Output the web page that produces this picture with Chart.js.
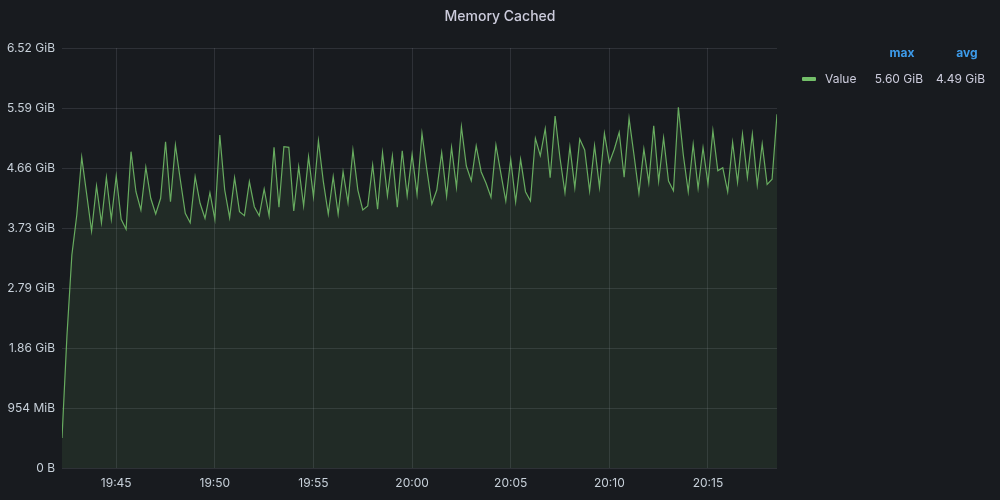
<!DOCTYPE html>
<html>
<head>
<meta charset="utf-8">
<script src="https://cdn.jsdelivr.net/npm/chart.js@4/dist/chart.umd.min.js"></script>
<style>
  html, body { margin: 0; padding: 0; background: #181b1f; }
  #wrap { position: relative; width: 1000px; height: 500px; background: #181b1f; font-family: Inter, Roboto, "Noto Sans", sans-serif; }
  #title { position: absolute; left: 0; top: 7px; width: 1000px; text-align: center; color: #ccccdc; font-size: 14px; font-weight: 500; }
  #legend { position: absolute; left: 790px; top: 45px; width: 210px; color: #ccccdc; font-size: 12px; }
  .hdr { position: absolute; top: 0; color: #3d9be9; font-weight: 700; text-align: center; }
  .row { position: absolute; top: 26px; }
  .sw { position: absolute; left: 12px; top: 32px; width: 14px; height: 4px; border-radius: 1px; background: #73bf69; }
  canvas { position: absolute; left: 0; top: 0; }
</style>
</head>
<body>
<div id="wrap">
  <canvas id="c" width="1000" height="500"></canvas>
  <div id="title"></div>
  <div id="legend"></div>
</div>
<script>
const chartTitle = "Memory Cached";
const seriesName = "Value";
const statNames = ["max", "avg"];
const statValues = ["5.60 GiB", "4.49 GiB"];
// sample timestamps: start minute of day (19:42:15) and 15 s step
const startMinute = 19 * 60 + 42.25;
const stepMinutes = 0.25;
// cached memory, in units of 1e9 bytes
const cachedGB = [
  0.50, 2.20, 3.55, 4.217, 5.178, 4.567, 3.95, 4.70, 4.088, 4.845,
  4.145, 4.867, 4.145, 3.978, 5.272, 4.605, 4.30, 5.012, 4.495, 4.233,
  4.495, 5.438, 4.438, 5.383, 4.80, 4.245, 4.088, 4.855, 4.412, 4.162,
  4.588, 4.145, 5.55, 4.633, 4.172, 4.838, 4.272, 4.205, 4.772, 4.355,
  4.205, 4.65, 4.205, 5.345, 4.345, 5.355, 5.345, 4.283, 5.022, 4.367,
  5.188, 4.522, 5.455, 4.772, 4.233, 4.855, 4.233, 4.938, 4.422, 5.30,
  4.633, 4.30, 4.367, 5.05, 4.312, 5.255, 4.538, 5.20, 4.345, 5.288,
  4.538, 5.228, 4.562, 5.578, 4.967, 4.40, 4.633, 5.255, 4.533, 5.345,
  4.678, 5.688, 5.033, 4.788, 5.367, 4.938, 4.745, 4.512, 5.383, 4.912,
  4.45, 5.145, 4.438, 5.145, 4.605, 4.45, 5.495, 5.205, 5.655, 4.838,
  5.867, 5.162, 4.588, 5.355, 4.672, 5.483, 5.30, 4.617, 5.372, 4.678,
  5.578, 5.088, 5.312, 5.595, 4.845, 5.828, 5.217, 4.578, 5.317, 4.755,
  5.705, 4.778, 5.505, 4.783, 4.622, 6.013, 5.217, 4.605, 5.395, 4.662,
  5.338, 4.733, 5.622, 4.955, 5.005, 4.605, 5.428, 4.762, 5.567, 4.845,
  5.562, 4.717, 5.40, 4.728, 4.812, 5.895
];
const yMax = 7, yStep = 1;      // 1e9-byte units
const xTickStepMinutes = 5;

document.getElementById('title').textContent = chartTitle;
const lg = document.getElementById('legend');
lg.innerHTML =
  '<div class="hdr" style="left:92px;width:40px">' + statNames[0] + '</div>' +
  '<div class="hdr" style="left:157px;width:40px">' + statNames[1] + '</div>' +
  '<div class="sw"></div>' +
  '<div class="row" style="left:35px">' + seriesName + '</div>' +
  '<div class="row" style="left:70px;width:63px;text-align:right">' + statValues[0] + '</div>' +
  '<div class="row" style="left:140px;width:55px;text-align:right">' + statValues[1] + '</div>';

const points = cachedGB.map((v, i) => ({ x: startMinute + i * stepMinutes, y: v }));
const xMin = startMinute, xMax = startMinute + (cachedGB.length - 1) * stepMinutes;

function fmtBytes(v) {
  const b = v * 1e9;
  if (b === 0) return '0 B';
  if (b < 1073741824) return Math.round(b / 1048576) + ' MiB';
  return (b / 1073741824).toFixed(2) + ' GiB';
}
function fmtTime(m) {
  const h = Math.floor(m / 60), mm = Math.round(m % 60);
  return String(h).padStart(2, '0') + ':' + String(mm).padStart(2, '0');
}

const gridColor = 'rgba(204,204,220,0.13)';
const tickColor = '#c7d0d9';
Chart.defaults.font.family = 'Inter, Roboto, "Noto Sans", sans-serif';
Chart.defaults.font.size = 12;

new Chart(document.getElementById('c'), {
  type: 'line',
  data: {
    datasets: [{
      label: seriesName,
      data: points,
      borderColor: 'rgba(115,191,105,0.88)',
      backgroundColor: 'rgba(115,191,105,0.10)',
      borderWidth: 1.2,
      pointRadius: 0,
      tension: 0,
      fill: 'origin'
    }]
  },
  options: {
    responsive: false,
    animation: false,
    layout: { padding: { left: 0, top: 48, right: 223, bottom: 0 } },
    plugins: { legend: { display: false }, title: { display: false }, tooltip: { enabled: false } },
    scales: {
      x: {
        type: 'linear',
        min: xMin, max: xMax,
        border: { display: false },
        grid: { color: gridColor, drawTicks: false },
        afterFit: (a) => { a.height = 32; },
        ticks: {
          stepSize: xTickStepMinutes,
          includeBounds: false,
          color: tickColor,
          padding: 8,
          maxRotation: 0,
          callback: (v) => fmtTime(v)
        }
      },
      y: {
        min: 0, max: yMax,
        border: { display: false },
        grid: { color: gridColor, drawTicks: false },
        afterFit: (a) => { a.width = 62; },
        ticks: {
          stepSize: yStep,
          color: tickColor,
          padding: 7,
          callback: (v) => fmtBytes(v)
        }
      }
    }
  }
});
</script>
</body>
</html>
